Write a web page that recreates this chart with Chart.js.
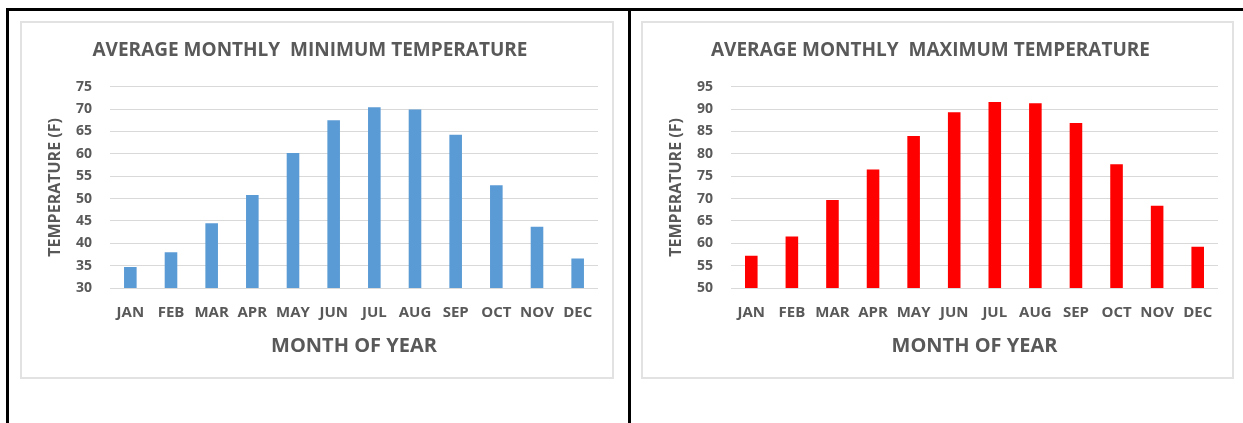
<!DOCTYPE html>
<html>
<head>
<meta charset="utf-8">
<script src="https://cdn.jsdelivr.net/npm/chart.js@4"></script>
<style>
  body { margin: 0; background: #fff; width: 1243px; height: 423px; overflow: hidden; position: relative; }
  .line { position: absolute; background: #000; }
  .box { position: absolute; top: 21px; height: 354px; border: 2px solid #e2e2e2; background: #fff; }
  .box canvas { display: block; }
</style>
</head>
<body>
<div class="line" style="left:6px; top:8px; width:1237px; height:3px;"></div>
<div class="line" style="left:6px; top:8px; width:3px; height:415px;"></div>
<div class="line" style="left:628px; top:8px; width:3px; height:415px;"></div>

<div class="box" style="left:20px; width:590px;"><canvas id="chartMin" width="590" height="354"></canvas></div>
<div class="box" style="left:641px; width:589px;"><canvas id="chartMax" width="589" height="354"></canvas></div>

<script>
// datos
const months = ["JAN", "FEB", "MAR", "APR", "MAY", "JUN", "JUL", "AUG", "SEP", "OCT", "NOV", "DEC"];
const minTemps = [34.7, 38.0, 44.5, 50.8, 60.2, 67.5, 70.4, 69.9, 64.3, 53.0, 43.7, 36.6];
const maxTemps = [57.2, 61.5, 69.7, 76.5, 84.0, 89.3, 91.6, 91.3, 86.9, 77.7, 68.4, 59.2];
const minTicks = [30, 75, 5];   // min, max, paso
const maxTicks = [50, 95, 5];

const FONT = "'Open Sans', sans-serif";
const TEXT = "#595959";
const GRID = "#d9d9d9";

function createBarChart(idCanva, title, values, color, ticks) {
  const ctx = document.getElementById(idCanva);
  return new Chart(ctx, {
    type: "bar",
    data: {
      labels: months,
      datasets: [
        {
          data: values,
          backgroundColor: color,
          categoryPercentage: 1,
          barPercentage: 0.31,
        },
      ],
    },
    options: {
      responsive: false,
      animation: false,
      layout: { padding: { left: 0, right: 14, top: 0, bottom: 9 } },
      plugins: {
        legend: { display: false },
        tooltip: { enabled: false },
        title: {
          display: true,
          text: title,
          color: TEXT,
          font: { family: FONT, size: 19, weight: "bold" },
          padding: { top: 16, bottom: 25 },
        },
      },
      scales: {
        x: {
          grid: { display: false, drawTicks: false },
          border: { display: false },
          ticks: {
            color: TEXT,
            font: { family: FONT, size: 15, weight: "bold" },
            padding: 16,
            maxRotation: 0,
            autoSkip: false,
          },
          title: {
            display: true,
            text: "MONTH OF YEAR",
            color: TEXT,
            font: { family: FONT, size: 20, weight: "bold" },
            padding: { top: 0, bottom: 10 },
          },
          afterFit: (scale) => { scale.height = 80; },
        },
        y: {
          min: ticks[0],
          max: ticks[1],
          grid: { color: GRID, lineWidth: 1, drawTicks: false },
          border: { display: false },
          ticks: {
            stepSize: ticks[2],
            color: TEXT,
            font: { family: FONT, size: 14, weight: "bold" },
            padding: 18,
          },
          title: {
            display: true,
            text: "TEMPERATURE (F)",
            color: TEXT,
            font: { family: FONT, size: 16, weight: "bold" },
            padding: { top: 24, bottom: 0 },
          },
          afterFit: (scale) => { scale.width = 88; },
        },
      },
    },
  });
}

createBarChart("chartMin", "AVERAGE MONTHLY  MINIMUM TEMPERATURE", minTemps, "#5b9bd5", minTicks);
createBarChart("chartMax", "AVERAGE MONTHLY  MAXIMUM TEMPERATURE", maxTemps, "#ff0000", maxTicks);
</script>
</body>
</html>
